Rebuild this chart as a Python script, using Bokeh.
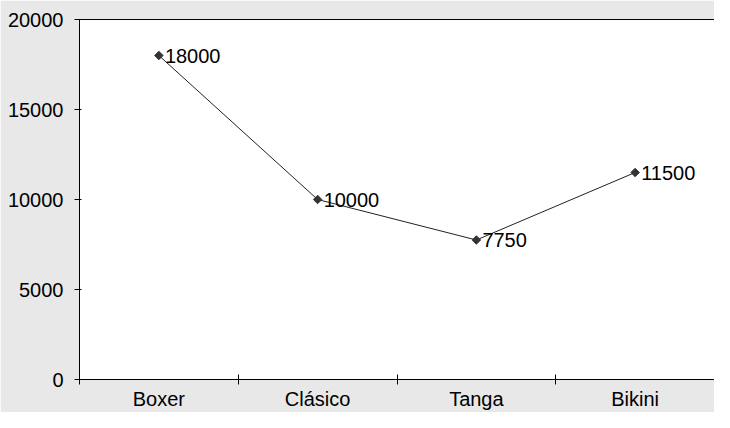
from bokeh.plotting import figure
from bokeh.models import LinearAxis, FixedTicker, Range1d, ColumnDataSource
from bokeh.embed import file_html
from bokeh.resources import INLINE
import numpy as np

categories = ["Boxer", "Clásico", "Tanga", "Bikini"]
values = [18000, 10000, 7750, 11500]
y_ticks = [0, 5000, 10000, 15000, 20000]

FONT = "Liberation Sans"
FS = "20px"
BG = "#e8e8e8"

xpos = np.arange(len(categories)) + 0.5
src = ColumnDataSource(dict(x=xpos, y=values, lab=[str(v) for v in values]))

p = figure(width=714, height=412, output_backend="svg", toolbar_location=None,
           x_range=Range1d(0, len(categories)), y_range=Range1d(0, 20000),
           x_axis_location=None, y_axis_location=None)
p.background_fill_color = "white"
p.border_fill_color = BG
p.outline_line_color = None
p.grid.visible = False
p.min_border_left = 79
p.min_border_top = 19
p.min_border_bottom = 28
p.min_border_right = 0

yax = LinearAxis(ticker=FixedTicker(ticks=y_ticks))
yax.axis_line_color = "black"
yax.major_tick_line_color = "black"
yax.major_tick_in = 2
yax.major_tick_out = 5
yax.minor_tick_line_color = None
yax.major_label_text_font = FONT
yax.major_label_text_font_size = FS
yax.major_label_text_color = "black"
yax.major_label_standoff = 11
p.add_layout(yax, "left")

xax = LinearAxis(ticker=FixedTicker(ticks=list(xpos), minor_ticks=list(range(len(categories) + 1))))
xax.major_label_overrides = {float(x): c for x, c in zip(xpos, categories)}
xax.axis_line_color = "black"
xax.major_tick_line_color = None
xax.major_tick_in = 0
xax.major_tick_out = 0
xax.minor_tick_line_color = "black"
xax.minor_tick_in = 5
xax.minor_tick_out = 5
xax.major_label_text_font = FONT
xax.major_label_text_font_size = FS
xax.major_label_text_color = "black"
xax.major_label_standoff = 3
p.add_layout(xax, "below")

top = LinearAxis(ticker=FixedTicker(ticks=[]))
top.axis_line_color = "black"
top.major_tick_line_color = None
top.minor_tick_line_color = None
top.major_label_text_font_size = "0px"
p.add_layout(top, "above")

p.line("x", "y", source=src, line_color="#222222", line_width=1)
p.scatter("x", "y", source=src, marker="square", angle=np.pi / 4, size=6,
          fill_color="#333333", line_color="#333333")
p.text("x", "y", text="lab", source=src, x_offset=6, text_baseline="middle", text_align="left",
       text_font_size=FS, text_color="black", text_font={"value": FONT})

open("out.html", "w").write(file_html(p, INLINE))
